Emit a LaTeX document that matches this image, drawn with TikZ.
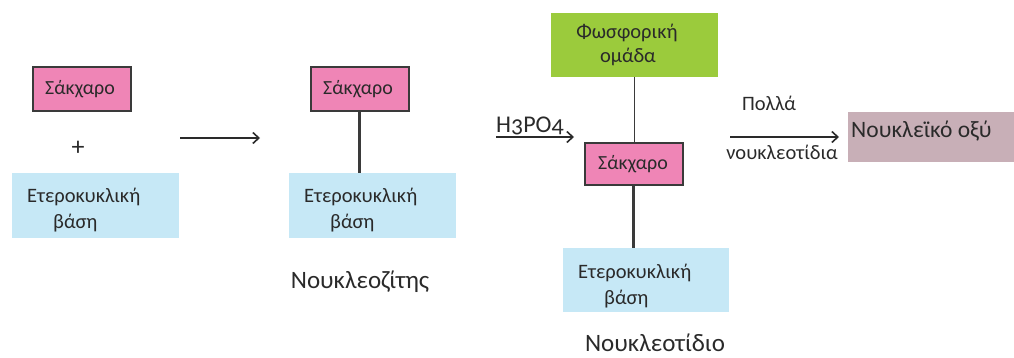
\documentclass[tikz,border=0pt]{standalone}
\usepackage{fontspec}
\setmainfont{Carlito}
\usetikzlibrary{arrows.meta}
\definecolor{sugar}{HTML}{EF85B6}
\definecolor{basec}{HTML}{C6E8F6}
\definecolor{phos}{HTML}{9BCB3C}
\definecolor{nacid}{HTML}{C8AFB7}
\definecolor{edge}{HTML}{3A3A3A}
\definecolor{ink}{HTML}{2A2A2A}
\begin{document}
\begin{tikzpicture}[x=1pt,y=-1pt,
  sugarbox/.style={draw=edge,line width=1.2pt,fill=sugar},
  basebox/.style={fill=basec},
  txt/.style={inner sep=0pt,text=ink,font=\fontsize{20}{22}\selectfont},
  bigtxt/.style={inner sep=0pt,text=ink,font=\fontsize{20.5}{24}\selectfont},
  captxt/.style={inner sep=0pt,text=ink,font=\fontsize{25}{28}\selectfont},
  arr/.style={-{Straight Barb[length=6pt,width=11pt]},line width=1.6pt,ink},
  bond/.style={line width=3pt,edge}]
\useasboundingbox (0,0) rectangle (1014,358);
% left group
\draw[sugarbox] (33,67) rectangle (131,111);
\node[txt] (s1) at (80,89) {Σάκχαρο};
\node[inner sep=0pt,text=ink,font=\fontsize{26}{28}\selectfont] (plus) at (78,148) {+};
\fill[basebox] (12,173) rectangle (179,238);
\node[bigtxt,anchor=base west] (b1a) at (27,203) {Ετεροκυκλική};
\node[bigtxt,anchor=base west] (b1b) at (53,229) {βάση};
\coordinate (a1s) at (180,138);
\coordinate (a1e) at (260,138);
\draw[arr] (a1s) -- (a1e);
% middle group
\draw[sugarbox] (311,67) rectangle (409,111);
\node[txt] (s2) at (358,89) {Σάκχαρο};
\fill[basebox] (289,173) rectangle (456,238);
\node[bigtxt,anchor=base west] (b2a) at (304,203) {Ετεροκυκλική};
\node[bigtxt,anchor=base west] (b2b) at (330,229) {βάση};
\coordinate (m1) at (359,111);
\coordinate (m2) at (359,173);
\draw[bond] (m1) -- (m2);
\node[captxt,anchor=base] (nz) at (360,288) {Νουκλεοζίτης};
% right group
\fill[phos] (551,13) rectangle (718,77);
\node[bigtxt,anchor=base] (p1) at (627,39) {Φωσφορική};
\node[bigtxt,anchor=base] (p2) at (628,63) {ομάδα};
\draw[sugarbox] (585,143) rectangle (683,185);
\node[txt] (s3) at (633,164) {Σάκχαρο};
\fill[basebox] (563,248) rectangle (729,312);
\node[bigtxt,anchor=base west] (b3a) at (578,278) {Ετεροκυκλική};
\node[bigtxt,anchor=base west] (b3b) at (604,304) {βάση};
\coordinate (r1) at (634,77);
\coordinate (r2) at (634,143);
\draw[line width=0.8pt,edge] (r1) -- (r2);
\coordinate (r3) at (633,185);
\coordinate (r4) at (633,248);
\draw[bond] (r3) -- (r4);
\node[inner sep=0pt,anchor=base west,text=ink,font=\fontsize{24}{28}\selectfont\addfontfeature{Numbers=OldStyle}] (h) at (496,133) {H3PO4};
\coordinate (hs) at (496,137);
\coordinate (he) at (574,137);
\draw[arr] (hs) -- (he);
\node[captxt,anchor=base] (nt) at (655,351) {Νουκλεοτίδιο};
% final
\node[bigtxt,anchor=base] (pol) at (769,111) {Πολλά};
\node[bigtxt,anchor=base] (nuc) at (782,160) {νουκλεοτίδια};
\coordinate (a4s) at (730,137);
\coordinate (a4e) at (839,137);
\draw[arr] (a4s) -- (a4e);
\fill[nacid] (848,112) rectangle (1014,162);
\node[inner sep=0pt,anchor=base west,text=ink,font=\fontsize{23.5}{28}\selectfont] (na) at (851,138) {Νουκλεϊκό οξύ};
\end{tikzpicture}
\end{document}
